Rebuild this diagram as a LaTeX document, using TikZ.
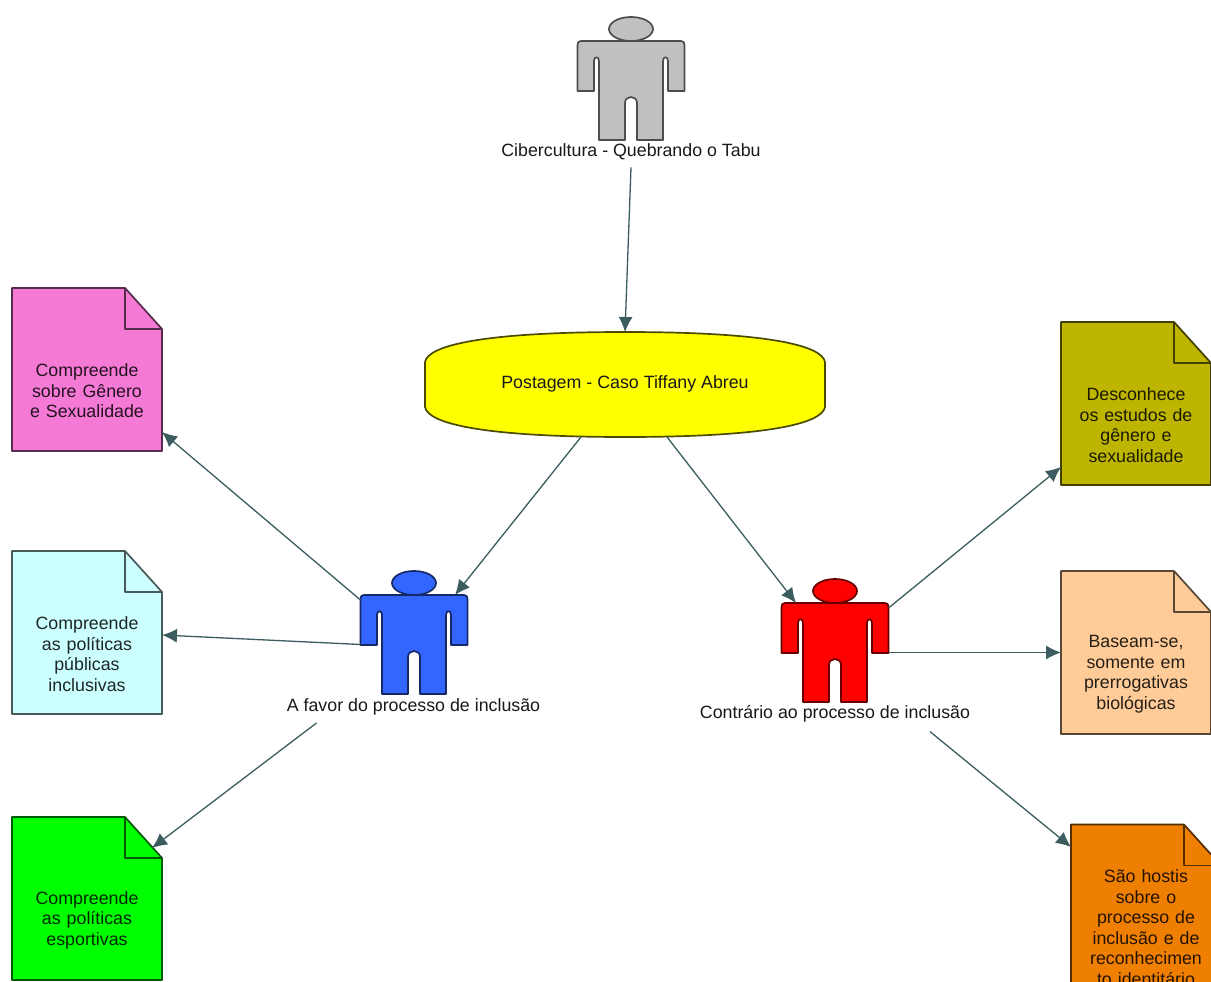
\documentclass[tikz,border=0pt]{standalone}
\usepackage{fontspec}
\setmainfont{Liberation Sans}
\usetikzlibrary{arrows.meta}
\definecolor{linkc}{HTML}{3C5C60}
\definecolor{pinkc}{HTML}{F57AD6}
\definecolor{cyanc}{HTML}{CCFFFF}
\definecolor{greenc}{HTML}{00FF00}
\definecolor{olivec}{HTML}{BDB500}
\definecolor{peachc}{HTML}{FFCC99}
\definecolor{orangec}{HTML}{EE7F00}
\definecolor{grayc}{HTML}{C0C0C0}
\definecolor{bluec}{HTML}{3366FF}
\definecolor{redc}{HTML}{FF0000}
\definecolor{yellowc}{HTML}{FFFF00}
\tikzset{
  link/.style={draw=linkc,line width=1.3pt,-{Latex[length=15pt,width=14pt]}},
  boxarea/.style={draw=none,fill=none,inner sep=0pt,outer sep=0pt,minimum width=#1},
  outline/.style={line width=1.7pt,line join=round},
  caption/.style={font=\fontsize{17.8}{20.5}\selectfont,inner sep=0pt,align=center,text=black!90},
  notecap/.style={caption,text width=140pt},
}
% name, x-centre, y-centre, colour, text
\newcommand{\docnode}[5]{%
  \node[boxarea=150pt,minimum height=163pt] (#1) at (#2,#3) {};
  \begin{scope}[shift={(#2,#3)}]
    \draw[outline,draw=#4!35!black,fill=#4] (-75,-81.5) -- (38,-81.5) -- (75,-40.5) -- (75,81.5) -- (-75,81.5) -- cycle;
    \draw[outline,draw=#4!35!black] (38,-81.5) -- (38,-40.5) -- (75,-40.5);
  \end{scope}
  \node[notecap,text=#4!15!black] (#1text) at (#2,#3+21.5) {#5};
}
% name, x-centre, y of shoulders, colour
\newcommand{\personnode}[4]{%
  \node[boxarea=107pt,minimum height=99pt] (#1) at (#2,#3+49.5) {};
  \begin{scope}[shift={(#2,#3)}]
    \draw[outline,draw=#4!40!black,fill=#4] (0,-12) ellipse [x radius=22,y radius=12];
    \draw[outline,draw=#4!40!black,fill=#4]
      (-50,0) -- (50,0) .. controls (52.5,0) and (53.5,1.5) .. (53.5,4) -- (53.5,50) -- (37,50) -- (37,20)
      .. controls (37,15) and (32,15) .. (32,20) -- (32,99) -- (6,99) -- (6,62)
      .. controls (6,54) and (-6,54) .. (-6,62) -- (-6,99) -- (-32,99) -- (-32,20)
      .. controls (-32,15) and (-37,15) .. (-37,20) -- (-37,50) -- (-53.5,50) -- (-53.5,4)
      .. controls (-53.5,1.5) and (-52.5,0) .. (-50,0) -- cycle;
  \end{scope}
}
\begin{document}
\begin{tikzpicture}[x=1pt,y=-1pt]
\useasboundingbox (0,0) rectangle (1211,982);
\clip (0,0) rectangle (1211,982);
\fill[white] (0,0) rectangle (1211,982);

\personnode{gray}{631}{41}{grayc}
\personnode{blue}{414}{595}{bluec}
\personnode{red}{835}{603}{redc}

\node[caption] (graylabel) at (631,152) {Cibercultura - Quebrando o Tabu};
\node[caption] (bluelabel) at (413.5,706.5) {A favor do processo de inclusão};
\node[caption] (redlabel) at (835,714) {Contrário ao processo de inclusão};

\node[boxarea=400pt,minimum height=105pt] (post) at (625,384.5) {};
\draw[outline,draw=yellowc!30!black,fill=yellowc]
  (425,362) .. controls (428,345) and (485,332) .. (625,332)
  .. controls (765,332) and (822,345) .. (825,362)
  -- (825,407) .. controls (822,424) and (765,437) .. (625,437)
  .. controls (485,437) and (428,424) .. (425,407) -- cycle;
\node[caption] (posttext) at (625,383.5) {Postagem - Caso Tiffany Abreu};

\docnode{pink}{87}{369.5}{pinkc}{Compreende\\sobre Gênero\\e Sexualidade}
\docnode{cyan}{87}{632.5}{cyanc}{Compreende\\as políticas\\públicas\\inclusivas}
\docnode{green}{87}{898.5}{greenc}{Compreende\\as políticas\\esportivas}
\docnode{olive}{1136}{403.5}{olivec}{Desconhece\\os estudos de\\gênero e\\sexualidade}
\docnode{peach}{1136}{652.5}{peachc}{Baseam-se,\\somente em\\prerrogativas\\biológicas}
\docnode{orange}{1146}{906}{orangec}{São hostis\\sobre o\\processo de\\inclusão e de\\reconhecimen\\to identitário}

\draw[link] ([yshift=-7pt]graylabel.south) -- (post.north);
\draw[link] ([xshift=-44pt]post.south) -- ([xshift=41pt]blue.north);
\draw[link] ([xshift=42pt]post.south) -- ([xshift=-39pt]red.north);
\draw[link] ([yshift=-5pt]blue.north west) -- ([yshift=-62.5pt]pink.east);
\draw[link] (blue.west) -- ([yshift=-2.5pt]cyan.east);
\draw[link] ([xshift=-97pt,yshift=-8pt]bluelabel.south) -- ([xshift=-10pt,yshift=50.5pt]green.east);
\draw[link] ([yshift=-5pt]red.north east) -- ([yshift=-63.5pt]olive.west);
\draw[link] (red.east) -- (peach.west);
\draw[link] ([xshift=95pt,yshift=-9pt]redlabel.south) -- ([yshift=59pt]orange.west);
\end{tikzpicture}
\end{document}
